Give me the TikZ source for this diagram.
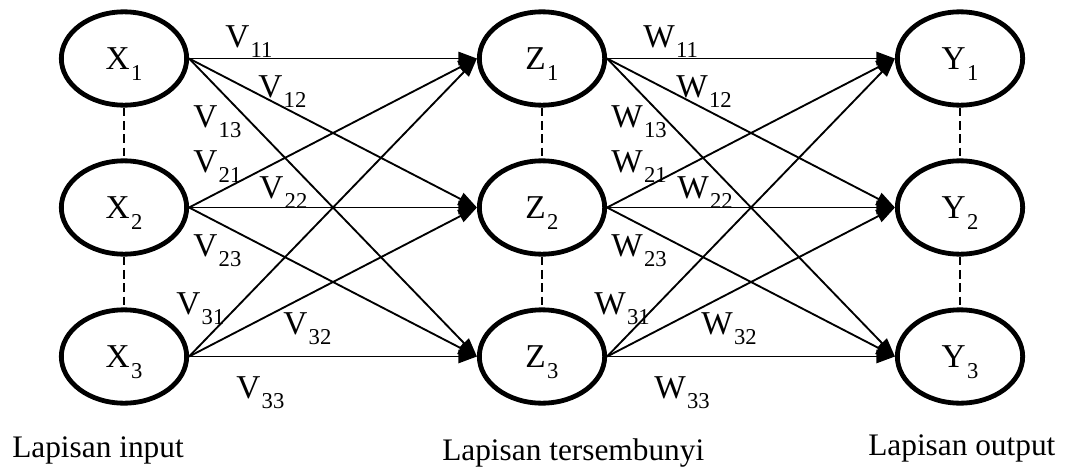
\documentclass[tikz,border=0pt]{standalone}
\usepackage{fontspec}
\setmainfont{Liberation Serif}
\usepackage{tikz}
\usetikzlibrary{arrows.meta,shapes}
\newcommand{\sbs}[2]{#1\kern1pt\raisebox{-8pt}[0pt][0pt]{\fontsize{17}{17}\selectfont #2}}

\begin{document}
\begin{tikzpicture}[x=0.75pt,y=-0.75pt,
  every node/.style={font=\fontsize{25}{30}\selectfont},
  unit/.style={draw,ellipse,line width=3.6pt,minimum width=94pt,minimum height=70pt,inner sep=0pt},
  wt/.style={anchor=base west,inner sep=0pt},
  caption/.style={anchor=base west,inner sep=0pt,font=\fontsize{23.5}{28}\selectfont},
  link/.style={draw,line width=1.4pt,-{Triangle[length=14pt,width=10pt]}},
  gap/.style={draw,line width=1.4pt,dash pattern=on 6.5pt off 3.5pt}]
\useasboundingbox (0,0) rectangle (1066,468);
% layers
\node[unit] (x1) at (124,58.5) {\sbs{X}{1}\hspace{10pt}};
\node[unit] (x2) at (124,207.5) {\sbs{X}{2}\hspace{10pt}};
\node[unit] (x3) at (124,356.5) {\sbs{X}{3}\hspace{10pt}};
\node[unit] (z1) at (542,58.5) {\sbs{Z}{1}\hspace{10pt}};
\node[unit] (z2) at (542,207.5) {\sbs{Z}{2}\hspace{10pt}};
\node[unit] (z3) at (542,356.5) {\sbs{Z}{3}\hspace{10pt}};
\node[unit] (y1) at (960,58.5) {\sbs{Y}{1}\hspace{10pt}};
\node[unit] (y2) at (960,207.5) {\sbs{Y}{2}\hspace{10pt}};
\node[unit] (y3) at (960,356.5) {\sbs{Y}{3}\hspace{10pt}};
\draw[gap] (x1) -- (x2); \draw[gap] (x2) -- (x3);
\draw[gap] (z1) -- (z2); \draw[gap] (z2) -- (z3);
\draw[gap] (y1) -- (y2); \draw[gap] (y2) -- (y3);
% input -> hidden
\draw[link] (x1.east) -- (z1.west); \draw[link] (x1.east) -- (z2.west); \draw[link] (x1.east) -- (z3.west);
\draw[link] (x2.east) -- (z1.west); \draw[link] (x2.east) -- (z2.west); \draw[link] (x2.east) -- (z3.west);
\draw[link] (x3.east) -- (z1.west); \draw[link] (x3.east) -- (z2.west); \draw[link] (x3.east) -- (z3.west);
% hidden -> output
\draw[link] (z1.east) -- (y1.west); \draw[link] (z1.east) -- (y2.west); \draw[link] (z1.east) -- (y3.west);
\draw[link] (z2.east) -- (y1.west); \draw[link] (z2.east) -- (y2.west); \draw[link] (z2.east) -- (y3.west);
\draw[link] (z3.east) -- (y1.west); \draw[link] (z3.east) -- (y2.west); \draw[link] (z3.east) -- (y3.west);
% weights
\node[wt] (v11) at (225,47) {\sbs{V}{11}};
\node[wt] (v12) at (258,97) {\sbs{V}{12}};
\node[wt] (v13) at (193,127) {\sbs{V}{13}};
\node[wt] (v21) at (193,172) {\sbs{V}{21}};
\node[wt] (v22) at (259,198) {\sbs{V}{22}};
\node[wt] (v23) at (193,256) {\sbs{V}{23}};
\node[wt] (v31) at (176,314) {\sbs{V}{31}};
\node[wt] (v32) at (283,334) {\sbs{V}{32}};
\node[wt] (v33) at (236,398) {\sbs{V}{33}};
\node[wt] (w11) at (643,47) {\sbs{W}{11}};
\node[wt] (w12) at (676,97) {\sbs{W}{12}};
\node[wt] (w13) at (611,127) {\sbs{W}{13}};
\node[wt] (w21) at (611,172) {\sbs{W}{21}};
\node[wt] (w22) at (677,198) {\sbs{W}{22}};
\node[wt] (w23) at (611,256) {\sbs{W}{23}};
\node[wt] (w31) at (594,314) {\sbs{W}{31}};
\node[wt] (w32) at (701,334) {\sbs{W}{32}};
\node[wt] (w33) at (654,398) {\sbs{W}{33}};
% captions
\node[caption] (capin) at (12,457) {Lapisan input};
\node[caption] (caphid) at (442,460) {Lapisan tersembunyi};
\node[caption] (capout) at (868,455) {Lapisan output};
\end{tikzpicture}
\end{document}
